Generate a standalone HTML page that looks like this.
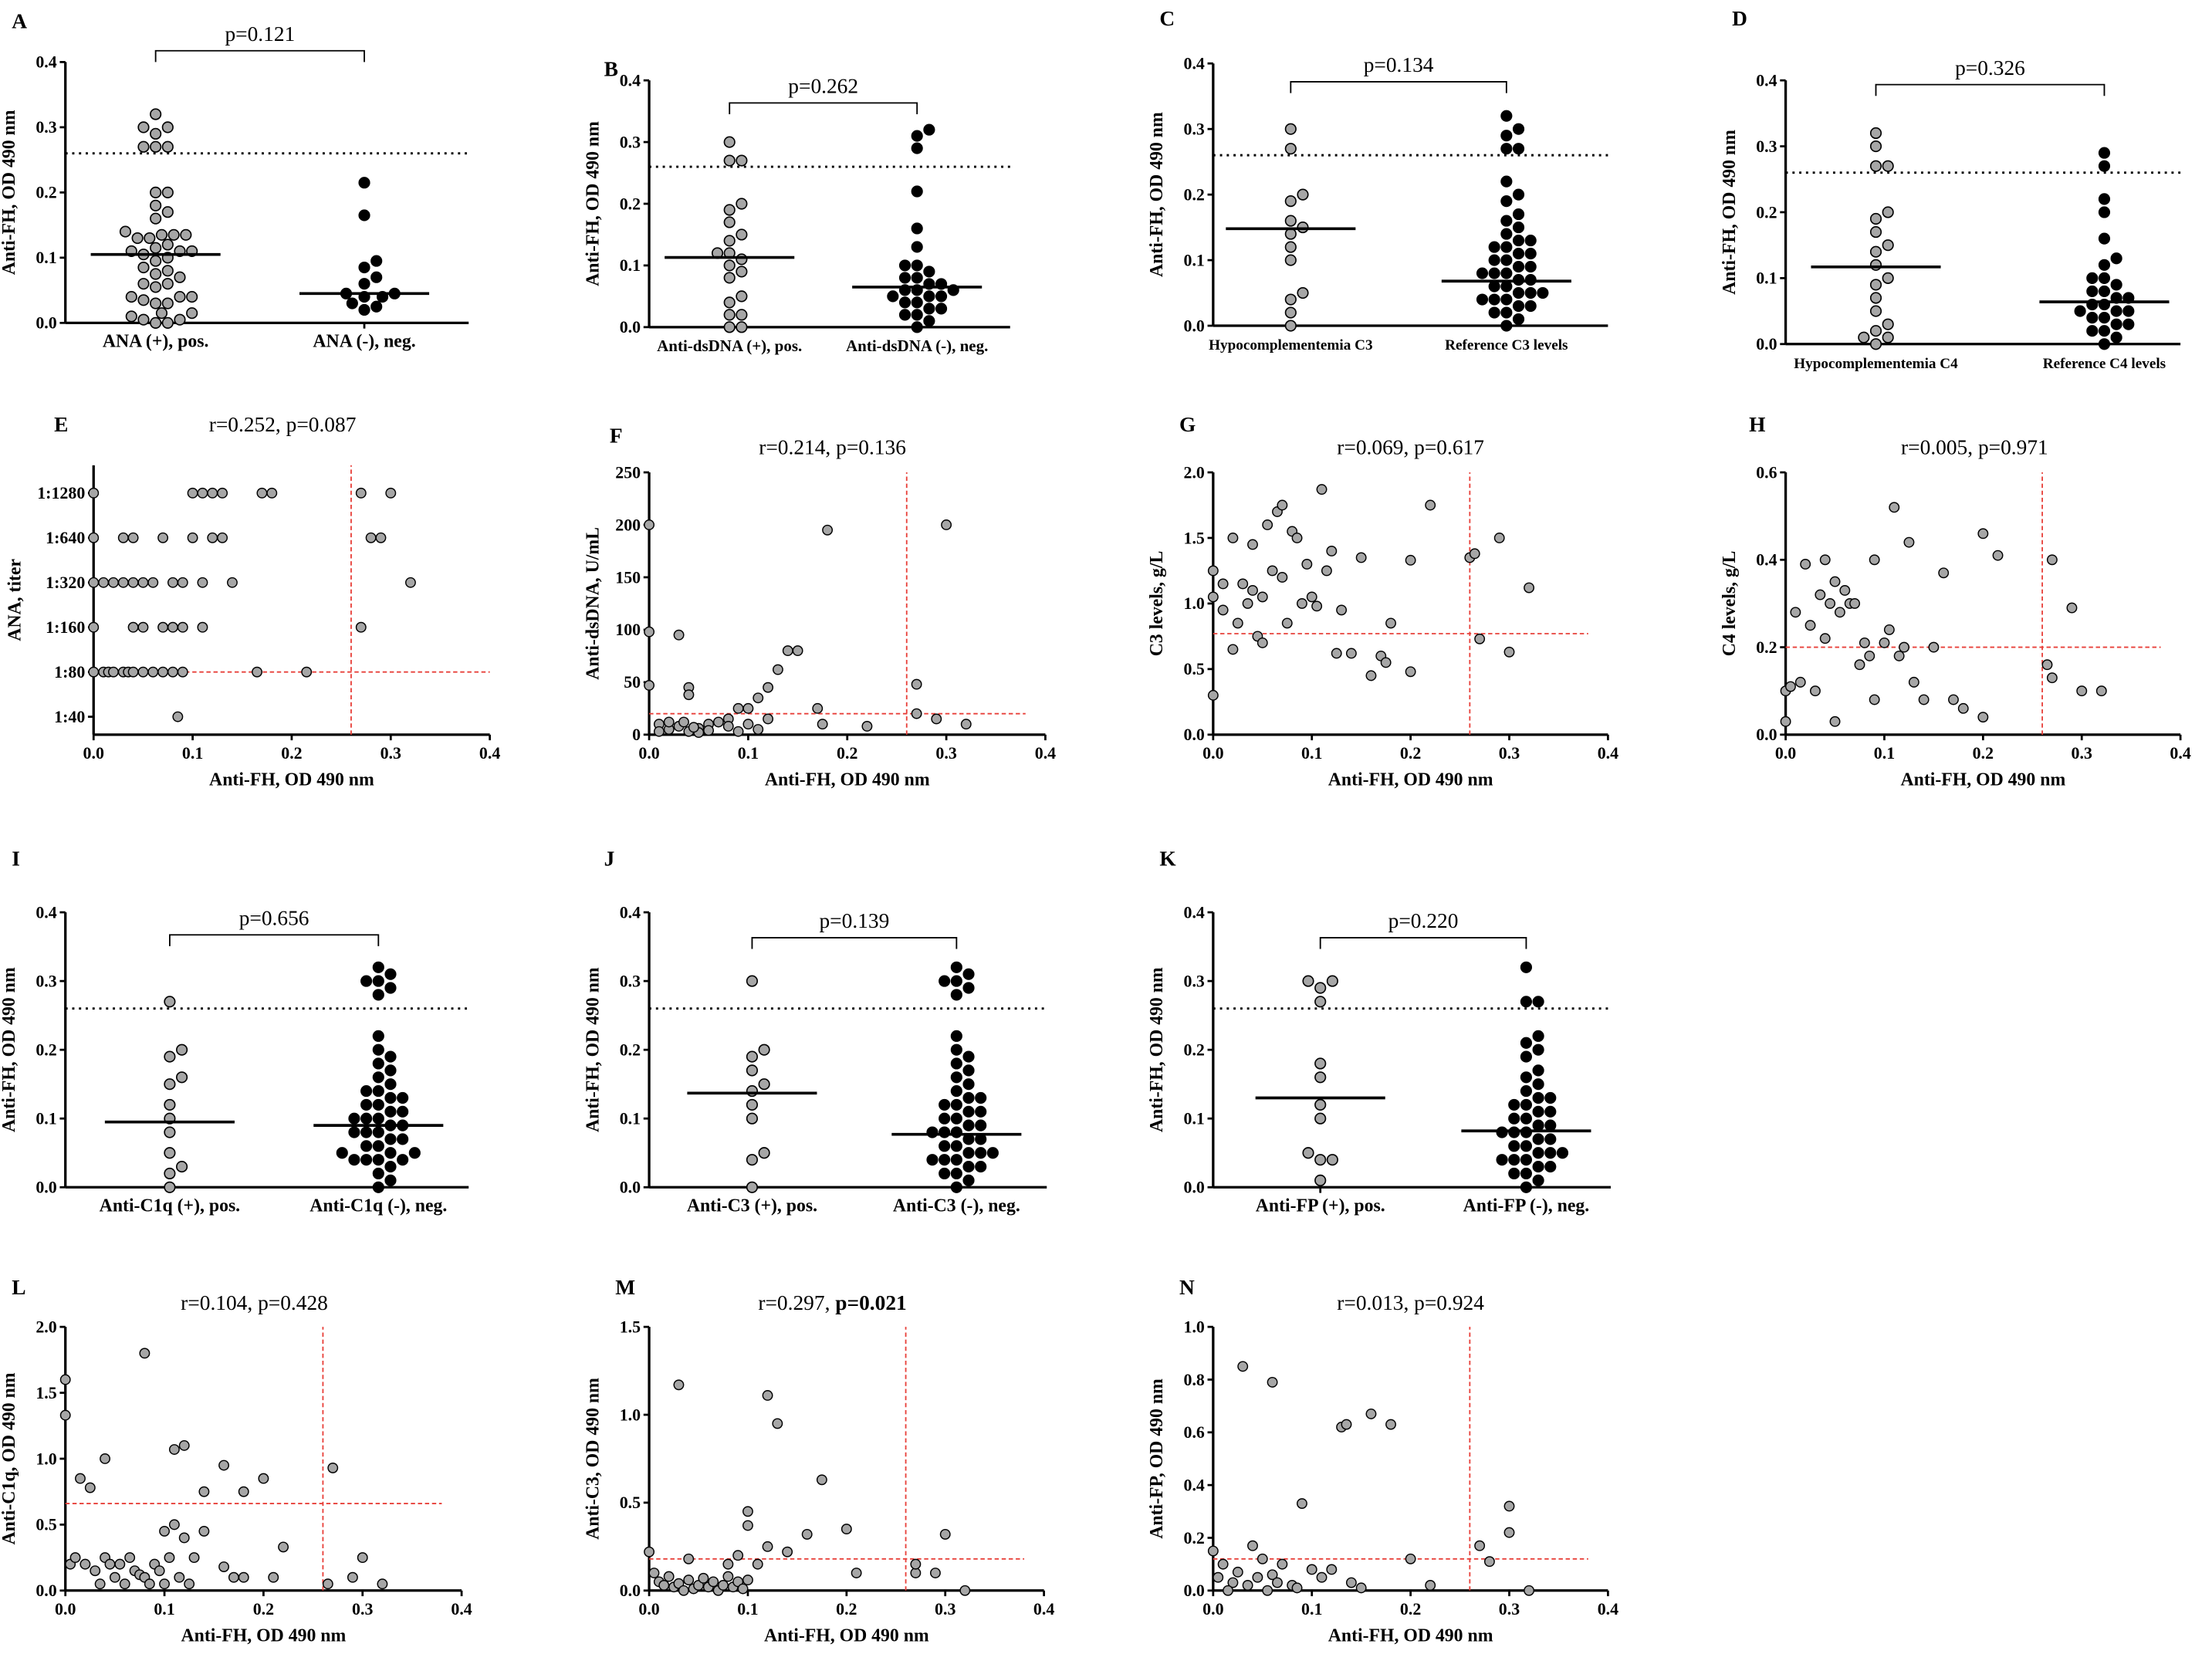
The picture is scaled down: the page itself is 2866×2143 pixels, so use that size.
<!DOCTYPE html>
<html><head><meta charset="utf-8"><style>
html,body{margin:0;padding:0;background:#fff}
svg{display:block}
text{font-family:"Liberation Serif",serif}
</style></head><body>
<svg id="fig" width="2866" height="2143" viewBox="0 0 1568 1173" xmlns="http://www.w3.org/2000/svg"></svg>
<script>
// ---------- DATA ----------
const aPos=[0.32,0.30,0.30,0.29,0.27,0.27,0.27,0.20,0.20,0.18,0.17,0.16,0.14,0.135,0.135,0.135,0.13,0.13,0.12,0.115,0.11,0.11,0.11,0.105,0.10,0.095,0.085,0.08,0.075,0.07,0.06,0.06,0.055,0.04,0.04,0.04,0.035,0.03,0.03,0.015,0.015,0.01,0.005,0.005,0.0,0.0];
const aNeg=[0.215,0.165,0.095,0.085,0.07,0.06,0.045,0.045,0.04,0.04,0.03,0.025,0.02];
const aMean=[0.105,0.045];
const bPos=[0.30,0.27,0.27,0.20,0.19,0.17,0.15,0.14,0.12,0.12,0.11,0.10,0.09,0.08,0.05,0.04,0.02,0.02,0.0,0.0];
const bNeg=[0.32,0.31,0.29,0.22,0.16,0.13,0.10,0.10,0.09,0.08,0.08,0.07,0.07,0.06,0.06,0.06,0.05,0.05,0.05,0.04,0.04,0.03,0.03,0.02,0.02,0.01,0.0];
const bMean=[0.113,0.065];
const cPos=[0.30,0.27,0.20,0.19,0.16,0.15,0.14,0.12,0.10,0.05,0.04,0.02,0.0];
const cNeg=[0.32,0.30,0.29,0.27,0.27,0.22,0.20,0.19,0.17,0.16,0.15,0.14,0.13,0.13,0.12,0.12,0.11,0.11,0.10,0.10,0.09,0.09,0.08,0.08,0.08,0.07,0.07,0.06,0.06,0.05,0.05,0.05,0.04,0.04,0.04,0.03,0.03,0.02,0.02,0.01,0.0];
const cMean=[0.148,0.068];
const dPos=[0.32,0.30,0.27,0.27,0.20,0.19,0.17,0.15,0.14,0.12,0.10,0.09,0.07,0.05,0.03,0.02,0.01,0.01,0.0];
const dNeg=[0.29,0.27,0.22,0.20,0.16,0.13,0.12,0.10,0.10,0.09,0.08,0.08,0.07,0.07,0.06,0.06,0.05,0.05,0.05,0.04,0.04,0.03,0.03,0.02,0.02,0.01,0.0];
const dMean=[0.117,0.064];
const iPos=[0.27,0.20,0.19,0.16,0.15,0.12,0.10,0.08,0.05,0.03,0.02,0.0];
const iNeg=[0.32,0.31,0.30,0.30,0.29,0.28,0.22,0.20,0.19,0.18,0.17,0.16,0.15,0.14,0.14,0.13,0.13,0.12,0.12,0.11,0.11,0.10,0.10,0.10,0.09,0.09,0.08,0.08,0.08,0.07,0.07,0.06,0.06,0.05,0.05,0.05,0.04,0.04,0.04,0.04,0.03,0.02,0.01,0.0];
const iMean=[0.095,0.09];
const jPos=[0.30,0.20,0.19,0.17,0.15,0.14,0.12,0.10,0.05,0.04,0.0];
const jNeg=[0.32,0.31,0.30,0.30,0.29,0.28,0.22,0.20,0.19,0.18,0.17,0.16,0.15,0.14,0.13,0.13,0.12,0.12,0.11,0.11,0.10,0.10,0.09,0.09,0.08,0.08,0.08,0.07,0.07,0.06,0.06,0.05,0.05,0.05,0.04,0.04,0.04,0.03,0.03,0.02,0.02,0.01,0.0];
const jMean=[0.137,0.077];
const kPos=[0.30,0.30,0.29,0.27,0.18,0.16,0.12,0.10,0.05,0.04,0.04,0.01];
const kNeg=[0.32,0.27,0.27,0.22,0.21,0.20,0.19,0.17,0.16,0.15,0.14,0.13,0.13,0.12,0.12,0.11,0.11,0.10,0.10,0.09,0.09,0.08,0.08,0.08,0.07,0.07,0.06,0.06,0.05,0.05,0.05,0.04,0.04,0.04,0.03,0.03,0.02,0.02,0.01,0.0];
const kMean=[0.13,0.082];
const eX=[0.0,0.10,0.11,0.12,0.13,0.17,0.18,0.27,0.30, 0.0,0.03,0.04,0.07,0.10,0.12,0.13,0.28,0.29, 0.0,0.01,0.02,0.03,0.04,0.05,0.06,0.08,0.09,0.11,0.14,0.32, 0.0,0.04,0.05,0.07,0.08,0.09,0.11,0.27, 0.0,0.01,0.015,0.02,0.03,0.035,0.04,0.05,0.06,0.07,0.08,0.09,0.165,0.215, 0.085];
const eY=[5,5,5,5,5,5,5,5,5, 4,4,4,4,4,4,4,4,4, 3,3,3,3,3,3,3,3,3,3,3,3, 2,2,2,2,2,2,2,2, 1,1,1,1,1,1,1,1,1,1,1,1,1,1, 0];
const eTicks=["1:40","1:80","1:160","1:320","1:640","1:1280"];
const fX=[0.0,0.0,0.0,0.03,0.04,0.04,0.18,0.30,0.14,0.15,0.13,0.12,0.11,0.10,0.09,0.17,0.27,0.27,0.29,0.32,0.22,0.175,0.12,0.08,0.01,0.02,0.03,0.04,0.05,0.06,0.07,0.05,0.02,0.01,0.06,0.08,0.09,0.10,0.11,0.035,0.045];
const fY=[200,98,47,95,45,38,195,200,80,80,62,45,35,25,25,25,48,20,15,10,8,10,15,15,10,5,8,3,6,10,12,2,12,3,4,8,3,10,5,12,7];
const gX=[0.0,0.0,0.0,0.01,0.01,0.02,0.02,0.025,0.03,0.035,0.04,0.04,0.045,0.05,0.05,0.055,0.06,0.065,0.07,0.07,0.075,0.08,0.085,0.09,0.095,0.10,0.105,0.11,0.115,0.12,0.125,0.13,0.14,0.15,0.16,0.17,0.175,0.18,0.20,0.20,0.22,0.26,0.265,0.27,0.29,0.30,0.32];
const gY=[1.25,1.05,0.3,0.95,1.15,1.5,0.65,0.85,1.15,1.0,1.45,1.1,0.75,1.05,0.7,1.6,1.25,1.7,1.75,1.2,0.85,1.55,1.5,1.0,1.3,1.05,0.98,1.87,1.25,1.4,0.62,0.95,0.62,1.35,0.45,0.6,0.55,0.85,0.48,1.33,1.75,1.35,1.38,0.73,1.5,0.63,1.12];
const hX=[0.0,0.0,0.005,0.01,0.015,0.02,0.025,0.03,0.035,0.04,0.04,0.045,0.05,0.05,0.055,0.06,0.065,0.07,0.075,0.08,0.085,0.09,0.09,0.10,0.105,0.11,0.115,0.12,0.125,0.13,0.14,0.15,0.16,0.17,0.18,0.20,0.20,0.215,0.27,0.265,0.27,0.29,0.30,0.32];
const hY=[0.1,0.03,0.11,0.28,0.12,0.39,0.25,0.1,0.32,0.4,0.22,0.3,0.35,0.03,0.28,0.33,0.3,0.3,0.16,0.21,0.18,0.4,0.08,0.21,0.24,0.52,0.18,0.2,0.44,0.12,0.08,0.2,0.37,0.08,0.06,0.46,0.04,0.41,0.4,0.16,0.13,0.29,0.1,0.1];
const lX=[0.0,0.0,0.005,0.01,0.015,0.025,0.04,0.08,0.11,0.12,0.14,0.16,0.18,0.20,0.22,0.27,0.29,0.30,0.32,0.10,0.11,0.12,0.13,0.14,0.16,0.17,0.18,0.21,0.02,0.03,0.035,0.04,0.045,0.05,0.055,0.06,0.065,0.07,0.075,0.08,0.085,0.09,0.095,0.10,0.105,0.115,0.125,0.265];
const lY=[1.6,1.33,0.2,0.25,0.85,0.78,1.0,1.8,1.07,1.1,0.75,0.95,0.75,0.85,0.33,0.93,0.1,0.25,0.05,0.45,0.5,0.4,0.25,0.45,0.18,0.1,0.1,0.1,0.2,0.15,0.05,0.25,0.2,0.1,0.2,0.05,0.25,0.15,0.12,0.1,0.05,0.2,0.15,0.05,0.25,0.1,0.05,0.05];
const mX=[0.03,0.12,0.13,0.175,0.10,0.10,0.20,0.14,0.16,0.30,0.0,0.04,0.08,0.09,0.11,0.12,0.21,0.27,0.27,0.29,0.32,0.005,0.01,0.02,0.025,0.03,0.04,0.045,0.05,0.055,0.06,0.065,0.07,0.075,0.08,0.085,0.09,0.095,0.1,0.015,0.035];
const mY=[1.17,1.11,0.95,0.63,0.45,0.37,0.35,0.22,0.32,0.32,0.22,0.18,0.15,0.2,0.15,0.25,0.1,0.1,0.15,0.1,0.0,0.1,0.05,0.08,0.02,0.04,0.06,0.01,0.03,0.07,0.02,0.05,0.0,0.03,0.08,0.02,0.05,0.01,0.06,0.03,0.0];
const nX=[0.03,0.06,0.09,0.13,0.135,0.16,0.18,0.30,0.30,0.27,0.28,0.0,0.04,0.05,0.07,0.10,0.12,0.20,0.22,0.32,0.005,0.01,0.02,0.025,0.035,0.045,0.055,0.06,0.065,0.08,0.085,0.11,0.14,0.15,0.015];
const nY=[0.85,0.79,0.33,0.62,0.63,0.67,0.63,0.32,0.22,0.17,0.11,0.15,0.17,0.12,0.1,0.08,0.08,0.12,0.02,0.0,0.05,0.1,0.03,0.07,0.02,0.05,0.0,0.06,0.03,0.02,0.01,0.05,0.03,0.01,0.0];

// ---------- DRAW ----------
const NS="http://www.w3.org/2000/svg";
const svg=document.getElementById('fig');
function mk(tag,attrs,parent){const e=document.createElementNS(NS,tag);for(const k in attrs)e.setAttribute(k,attrs[k]);(parent||svg).appendChild(e);return e;}
function txt(s,x,y,size,anchor,bold,parent,rot){const t=mk('text',{x:x,y:y,'font-size':size,'text-anchor':anchor||'middle','font-weight':bold?'bold':'normal'},parent);if(rot)t.setAttribute('transform','rotate(-90 '+x+' '+y+')');t.textContent=s;return t;}
function group(name){const g=mk('g',{});return g;}

function swarm(vals,cx,ys,r){
  const placed=[];const out=[];
  const sorted=vals.map((v,i)=>[v,i]).sort((a,b)=>a[0]-b[0]);
  for(const [v,i] of sorted){
    const y=ys(v);let k=0,x=cx;
    while(true){
      const off=(k===0?0:(k%2?1:-1)*Math.ceil(k/2)*r*1.1);
      x=cx+off;
      if(!placed.some(p=>(p[0]-x)**2+(p[1]-y)**2<(2*r)**2*0.95))break;
      k++; if(k>60)break;
    }
    placed.push([x,y]);out[i]=[x,y];
  }
  return out;
}

function dotPlot(c){
  const g=group('panel-'+c.L.toLowerCase());
  const ys=v=>c.y0+(c.y4-c.y0)*v/0.4;
  const L=txt(c.L,c.lx,c.ly,15,'start',true,g);
  mk('line',{x1:c.ax,y1:c.y0,x2:c.ax,y2:c.y4,stroke:'#000','stroke-width':1.8},g);
  mk('line',{x1:c.ax,y1:c.y0,x2:c.xe,y2:c.y0,stroke:'#000','stroke-width':1.8},g);
  for(let i=0;i<=4;i++){const y=ys(i/10);mk('line',{x1:c.ax-4,y1:y,x2:c.ax,y2:y,stroke:'#000','stroke-width':1.5},g);
    const t=txt((i/10).toFixed(1),c.ax-6,y+4,12,'end',true,g);}
  const yt=txt('Anti-FH, OD 490 nm',c.ax-36,(c.y0+c.y4)/2,13,'middle',true,g,true);
  
  const dl=mk('line',{x1:c.ax,y1:ys(0.26),x2:c.xe,y2:ys(0.26),stroke:'#000','stroke-width':1.6,'stroke-dasharray':'1.6,3.2'},g);
  
  const br=mk('path',{d:`M${c.cx[0]},${c.by+8}V${c.by}H${c.cx[1]}V${c.by+8}`,fill:'none',stroke:'#000','stroke-width':1},g);
  
  const pt=txt(c.p,(c.cx[0]+c.cx[1])/2,c.by-7,15,'middle',false,g);
  const sets=[c.pos,c.neg];const fills=['#a6a6a6',c.negFill];
  for(let s=0;s<2;s++){
    mk('line',{x1:c.cx[s],y1:c.y0,x2:c.cx[s],y2:c.y0+4,stroke:'#000','stroke-width':1.5},g);
    const cl=txt(c.cats[s],c.cx[s],c.y0+17,c.catSize,'middle',true,g);
    const pts=swarm(sets[s],c.cx[s],ys,3.9);
    pts.forEach(p=>{const d=mk('circle',{cx:p[0],cy:p[1],r:3.7,fill:fills[s],stroke:'#000','stroke-width':0.9},g);
      });
    const ml=mk('line',{x1:c.cx[s]-46,y1:ys(c.mean[s]),x2:c.cx[s]+46,y2:ys(c.mean[s]),stroke:'#000','stroke-width':2},g);
    
  }
}

function scatter(c){
  const g=group('panel-'+c.L.toLowerCase());
  const xs=v=>c.x0+(c.x4-c.x0)*v/0.4;
  const ys=v=>c.y0+(c.yt-c.y0)*(v-c.ymin)/(c.ymax-c.ymin);
  const L=txt(c.L,c.lx,c.ly,15,'start',true,g);
  const ti=mk('text',{x:c.tx,y:c.ty,'font-size':15,'text-anchor':'middle'},g);
  ti.textContent=c.title; if(c.boldP){const b=mk('tspan',{'font-weight':'bold'},ti);b.textContent=c.boldP;}
  mk('line',{x1:c.x0,y1:c.y0,x2:c.x0,y2:c.yt,stroke:'#000','stroke-width':1.8},g);
  mk('line',{x1:c.x0,y1:c.y0,x2:c.x4,y2:c.y0,stroke:'#000','stroke-width':1.8},g);
  for(let i=0;i<=4;i++){const x=xs(i/10);mk('line',{x1:x,y1:c.y0,x2:x,y2:c.y0+4,stroke:'#000','stroke-width':1.5},g);
    const t=txt((i/10).toFixed(1),x,c.y0+17,12,'middle',true,g);}
  c.yticks.forEach((v,i)=>{const y=ys(v);mk('line',{x1:c.x0-4,y1:y,x2:c.x0,y2:y,stroke:'#000','stroke-width':1.5},g);
    const t=txt(c.ylabels[i],c.x0-6,y+4,12,'end',true,g);});
  const xt=txt('Anti-FH, OD 490 nm',(c.x0+c.x4)/2,c.y0+36,13,'middle',true,g);
  const yt=txt(c.ytitle,c.x0-c.ytoff,(c.y0+c.yt)/2,13,'middle',true,g,true);
  const v=mk('line',{x1:xs(0.26),y1:c.y0,x2:xs(0.26),y2:c.yt,stroke:'#e8403a','stroke-width':1,'stroke-dasharray':'3,2'},g);
  
  const h=mk('line',{x1:c.x0,y1:ys(c.hline),x2:xs(c.hend),y2:ys(c.hline),stroke:'#e8403a','stroke-width':1,'stroke-dasharray':'3,2'},g);
  
  c.X.forEach((x,i)=>{const d=mk('circle',{cx:xs(x),cy:ys(c.Y[i]),r:3.4,fill:'#a6a6a6',stroke:'#000','stroke-width':0.8},g);
    });
}

dotPlot({L:'A',lx:8,ly:20,ax:46,y0:229,y4:44,xe:332,cx:[110,258],by:36,p:'p=0.121',pos:aPos,neg:aNeg,mean:aMean,negFill:'#000',cats:['ANA (+), pos.','ANA (-), neg.'],catSize:13});
dotPlot({L:'B',lx:428,ly:54,ax:460,y0:232,y4:57,xe:716,cx:[517,650],by:73,p:'p=0.262',pos:bPos,neg:bNeg,mean:bMean,negFill:'#000',cats:['Anti-dsDNA (+), pos.','Anti-dsDNA (-), neg.'],catSize:11.5});
dotPlot({L:'C',lx:822,ly:18,ax:860,y0:231,y4:45,xe:1140,cx:[915,1068],by:58,p:'p=0.134',pos:cPos,neg:cNeg,mean:cMean,negFill:'#000',cats:['Hypocomplementemia C3','Reference C3 levels'],catSize:10.5});
dotPlot({L:'D',lx:1228,ly:18,ax:1266,y0:244,y4:57,xe:1546,cx:[1330,1492],by:60,p:'p=0.326',pos:dPos,neg:dNeg,mean:dMean,negFill:'#000',cats:['Hypocomplementemia C4','Reference C4 levels'],catSize:10.5});
dotPlot({L:'I',lx:8,ly:614,ax:46,y0:842,y4:647,xe:332,cx:[120,268],by:663,p:'p=0.656',pos:iPos,neg:iNeg,mean:iMean,negFill:'#000',cats:['Anti-C1q (+), pos.','Anti-C1q (-), neg.'],catSize:13});
dotPlot({L:'J',lx:428,ly:614,ax:460,y0:842,y4:647,xe:742,cx:[533,678],by:665,p:'p=0.139',pos:jPos,neg:jNeg,mean:jMean,negFill:'#000',cats:['Anti-C3 (+), pos.','Anti-C3 (-), neg.'],catSize:13});
dotPlot({L:'K',lx:822,ly:614,ax:860,y0:842,y4:647,xe:1142,cx:[936,1082],by:665,p:'p=0.220',pos:kPos,neg:kNeg,mean:kMean,negFill:'#000',cats:['Anti-FP (+), pos.','Anti-FP (-), neg.'],catSize:13});

scatter({L:'E',lx:38,ly:306,x0:66,x4:347,y0:521,yt:330,ymin:-0.4,ymax:5.62,yticks:[0,1,2,3,4,5],ylabels:eTicks,X:eX,Y:eY,ytitle:'ANA, titer',ytoff:52,hline:1,hend:0.4,title:'r=0.252, p=0.087',tx:200,ty:306});
scatter({L:'F',lx:432,ly:314,x0:460,x4:741,y0:521,yt:335,ymin:0,ymax:250,yticks:[0,50,100,150,200,250],ylabels:['0','50','100','150','200','250'],X:fX,Y:fY,ytitle:'Anti-dsDNA, U/mL',ytoff:36,hline:20,hend:0.38,title:'r=0.214, p=0.136',tx:590,ty:322});
scatter({L:'G',lx:836,ly:306,x0:860,x4:1140,y0:521,yt:335,ymin:0,ymax:2,yticks:[0,0.5,1,1.5,2],ylabels:['0.0','0.5','1.0','1.5','2.0'],X:gX,Y:gY,ytitle:'C3 levels, g/L',ytoff:36,hline:0.77,hend:0.38,title:'r=0.069, p=0.617',tx:1000,ty:322});
scatter({L:'H',lx:1240,ly:306,x0:1266,x4:1546,y0:521,yt:335,ymin:0,ymax:0.6,yticks:[0,0.2,0.4,0.6],ylabels:['0.0','0.2','0.4','0.6'],X:hX,Y:hY,ytitle:'C4 levels, g/L',ytoff:36,hline:0.2,hend:0.38,title:'r=0.005, p=0.971',tx:1400,ty:322});
scatter({L:'L',lx:8,ly:918,x0:46,x4:327,y0:1128,yt:941,ymin:0,ymax:2,yticks:[0,0.5,1,1.5,2],ylabels:['0.0','0.5','1.0','1.5','2.0'],X:lX,Y:lY,ytitle:'Anti-C1q, OD 490 nm',ytoff:36,hline:0.66,hend:0.38,title:'r=0.104, p=0.428',tx:180,ty:929});
scatter({L:'M',lx:436,ly:918,x0:460,x4:740,y0:1128,yt:941,ymin:0,ymax:1.5,yticks:[0,0.5,1,1.5],ylabels:['0.0','0.5','1.0','1.5'],X:mX,Y:mY,ytitle:'Anti-C3, OD 490 nm',ytoff:36,hline:0.18,hend:0.38,title:'r=0.297, ',boldP:'p=0.021',tx:590,ty:929});
scatter({L:'N',lx:836,ly:918,x0:860,x4:1140,y0:1128,yt:941,ymin:0,ymax:1,yticks:[0,0.2,0.4,0.6,0.8,1],ylabels:['0.0','0.2','0.4','0.6','0.8','1.0'],X:nX,Y:nY,ytitle:'Anti-FP, OD 490 nm',ytoff:36,hline:0.12,hend:0.38,title:'r=0.013, p=0.924',tx:1000,ty:929});
</script>
</body></html>
